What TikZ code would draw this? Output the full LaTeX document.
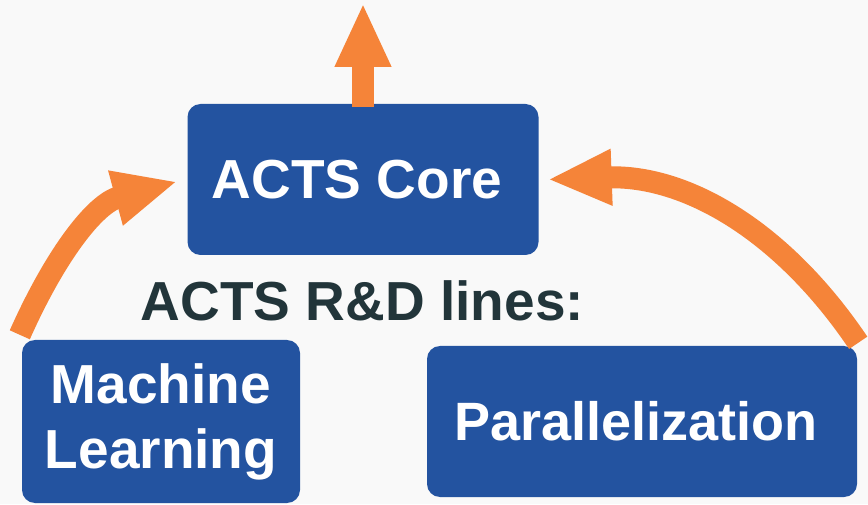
\documentclass[tikz,border=0pt]{standalone}
\usepackage{fontspec}
\setmainfont{Liberation Sans}
\usetikzlibrary{arrows.meta}

\definecolor{actsblue}{HTML}{2353A0}
\definecolor{actsorange}{HTML}{F58439}
\definecolor{actsdark}{HTML}{22353A}
\definecolor{paper}{HTML}{F9F9F9}

\begin{document}
\begin{tikzpicture}[
        x=1pt, y=1pt,
        >={Triangle[length=64pt, width=52pt]},
        font=\bfseries\fontsize{55}{65}\selectfont,
        box/.style = {
            fill=actsblue, text=white, rounded corners=13pt,
            inner sep=0pt, align=center,
            minimum width=#1
        },
        flow/.style = {
            ->, draw=actsorange, line width=22pt
        }
    ]
        % page and its margins
        \fill[paper] (0,0) rectangle (868,504);
        \useasboundingbox (0,0) rectangle (868,504);

        \node[box=351pt, minimum height=151pt] (core) at (363,324.5) {ACTS Core\kern12pt};
        \node[box=278pt, minimum height=163pt] (ml)   at (161, 82.5) {Machine\\Learning};
        \node[box=430pt, minimum height=151pt] (para) at (642, 82.5) {\fontsize{54}{65}\selectfont Parallelization\kern12pt};

        \node[text=actsdark, anchor=base] (lines) at (362.5,183) {ACTS R\&D lines:};

        \coordinate (top)   at (363,501);
        \coordinate (mltail)   at ([shift={(-2,5)}]ml.north west);
        \coordinate (paratail) at ([shift={(1,3)}]para.north east);
        \coordinate (coreleft)  at ([shift={(-10,-2)}]core.west);
        \coordinate (coreright) at ([shift={(9,0)}]core.east);

        \draw[flow] ([yshift=-3pt]core.north) -- (top);
        \draw[flow] (mltail) to[out=66, in=195] (coreleft);
        \draw[flow] (paratail) to[out=124, in=2] (coreright);
    \end{tikzpicture}
\end{document}
